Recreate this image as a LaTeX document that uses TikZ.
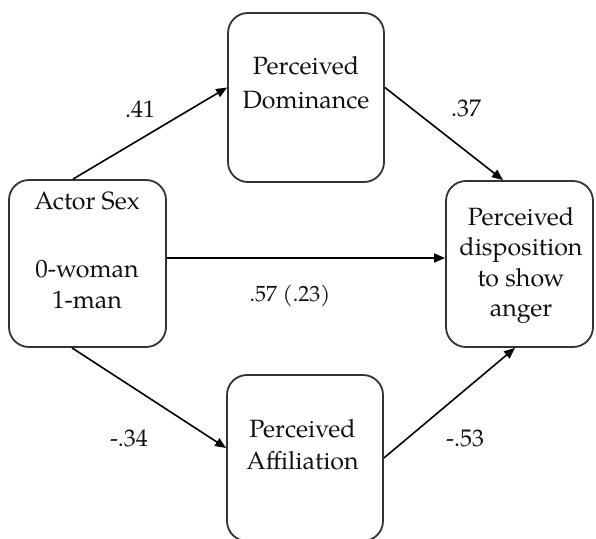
\documentclass[tikz,border=0pt]{standalone}
\usepackage{fontspec}
\setmainfont{texgyrepagella}[Extension=.otf, UprightFont=*-regular, BoldFont=*-bold, ItalicFont=*-italic]
\usetikzlibrary{arrows.meta}
\definecolor{boxline}{HTML}{333333}
\definecolor{ink}{HTML}{111111}
\tikzset{
  box/.style={draw=boxline, line width=1.8pt, rounded corners=20pt, minimum width=#1, inner sep=0pt},
  txt/.style={anchor=base, inner sep=0pt, text=ink, font=\fontsize{25}{30}\selectfont},
  lbl/.style={anchor=base, inner sep=0pt, text=ink, font=\fontsize{24}{29}\selectfont},
  arr/.style={draw=black, line width=1.6pt, -{Triangle[length=11pt,width=9pt]}},
}
\begin{document}
\begin{tikzpicture}[x=1pt, y=-1pt]
\useasboundingbox (0,0) rectangle (596,538);
\clip (0,0) rectangle (596,538);
% boxes
\node[box=157pt, minimum height=167pt] (act) at (87.5,263.5) {};
\node[box=156pt, minimum height=169pt] (dom) at (306,97.5) {};
\node[box=147pt, minimum height=166pt] (ang) at (519.5,264) {};
\node[box=156pt, minimum height=166pt] (aff) at (305,458) {};
% box texts
\node[txt] (act1) at (87,209) {Actor Sex};
\node[txt] (act2) at (87,277) {0-woman};
\node[txt] (act3) at (87,308) {1-man};
\node[txt] (dom1) at (306,74) {Perceived};
\node[txt] (dom2) at (306,108) {Dominance};
\node[txt] (ang1) at (521,225) {Perceived};
\node[txt] (ang2) at (521,255.5) {disposition};
\node[txt] (ang3) at (521,286) {to show};
\node[txt] (ang4) at (521,316.5) {anger};
\node[txt] (aff1) at (302.5,437) {Perceived};
\node[txt] (aff2) at (302.5,469) {Affiliation};
% connectors
\draw[arr] ([xshift=-14.5pt]act.north) -- ([yshift=10pt]dom.west);
\draw[arr] ([yshift=10pt]dom.east) -- ([xshift=-16.5pt]ang.north);
\draw[arr] ([yshift=5.5pt]act.east) -- ([yshift=6pt]ang.west);
\draw[arr] ([xshift=-15.5pt]act.south) -- ([yshift=10pt]aff.west);
\draw[arr] (aff.east) -- ([xshift=-4.5pt]ang.south);
% coefficient labels
\node[lbl] (l41) at (140,117) {.41};
\node[lbl] (l37) at (466,116) {.37};
\node[lbl, font=\fontsize{22}{27}\selectfont] (l57) at (290,301) {.57 (.23)};
\node[lbl] (l34) at (129,446) {-.34};
\node[lbl] (l53) at (465,446) {-.53};
\end{tikzpicture}
\end{document}
